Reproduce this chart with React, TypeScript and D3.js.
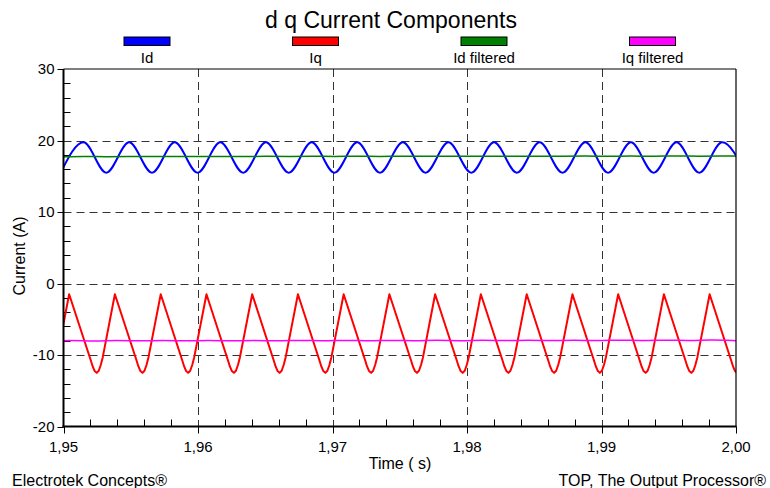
import React from 'react';
import * as d3 from 'd3';

const title = 'd q Current Components';
const seriesNames = ['Id', 'Iq', 'Id filtered', 'Iq filtered'];
const seriesColors = ['#0000ff', '#ff0000', '#008000', '#ff00ff'];
const xTicks = [1.95, 1.96, 1.97, 1.98, 1.99, 2.0];
const xTickLabels = ['1,95', '1,96', '1,97', '1,98', '1,99', '2,00'];
const xMinorTicks = [1.952, 1.954, 1.956, 1.958, 1.962, 1.964, 1.966, 1.968, 1.972, 1.974, 1.976, 1.978, 1.982, 1.984, 1.986, 1.988, 1.992, 1.994, 1.996, 1.998];
const yTicks = [-20, -10, 0, 10, 20, 30];
const yMinorTicks = [-18, -16, -14, -12, -8, -6, -4, -2, 2, 4, 6, 8, 12, 14, 16, 18, 22, 24, 26, 28];

// Id: alternating troughs / peaks
const idTime = [1.94979, 1.95149, 1.95318, 1.95488, 1.95658, 1.95827, 1.95997, 1.96166, 1.96336, 1.96505, 1.96675, 1.96845, 1.97014, 1.97184, 1.97353, 1.97523, 1.97692, 1.97862, 1.98032, 1.98201, 1.98371, 1.9854, 1.9871, 1.9888, 1.99049, 1.99219, 1.99388, 1.99558, 1.99727, 1.99897, 2.00067];
const idValue = [15.5, 19.75, 15.5, 19.75, 15.5, 19.75, 15.5, 19.75, 15.5, 19.75, 15.5, 19.75, 15.5, 19.75, 15.5, 19.75, 15.5, 19.75, 15.5, 19.75, 15.5, 19.75, 15.5, 19.75, 15.5, 19.75, 15.5, 19.75, 15.5, 19.75, 15.5];
const idFilteredValue = [17.7, 17.78, 17.71, 17.79, 17.72, 17.8, 17.73, 17.8, 17.74, 17.81, 17.74, 17.81, 17.75, 17.82, 17.75, 17.82, 17.76, 17.83, 17.76, 17.83, 17.77, 17.83, 17.77, 17.84, 17.78, 17.84, 17.78, 17.85, 17.79, 17.85, 17.8];

// Iq: sawtooth samples [time, value] (rounded troughs, sharp peaks)
const iqSamples: [number, number][] = [
  [1.94862, -10.7], [1.94877, -11.6], [1.94892, -12.25], [1.94907, -12.5], [1.94922, -12.2], [1.94937, -11.4], [1.94952, -10.3], [1.95042, -1.5],
  [1.95202, -10.7], [1.95217, -11.6], [1.95232, -12.25], [1.95247, -12.5], [1.95262, -12.2], [1.95277, -11.4], [1.95292, -10.3], [1.95382, -1.5],
  [1.95542, -10.7], [1.95557, -11.6], [1.95572, -12.25], [1.95587, -12.5], [1.95602, -12.2], [1.95617, -11.4], [1.95632, -10.3], [1.95723, -1.5],
  [1.95882, -10.7], [1.95897, -11.6], [1.95912, -12.25], [1.95927, -12.5], [1.95942, -12.2], [1.95957, -11.4], [1.95972, -10.3], [1.96063, -1.5],
  [1.96222, -10.7], [1.96237, -11.6], [1.96252, -12.25], [1.96267, -12.5], [1.96282, -12.2], [1.96297, -11.4], [1.96312, -10.3], [1.96403, -1.5],
  [1.96562, -10.7], [1.96577, -11.6], [1.96592, -12.25], [1.96607, -12.5], [1.96622, -12.2], [1.96637, -11.4], [1.96652, -10.3], [1.96743, -1.5],
  [1.96902, -10.7], [1.96917, -11.6], [1.96932, -12.25], [1.96947, -12.5], [1.96962, -12.2], [1.96977, -11.4], [1.96992, -10.3], [1.97083, -1.5],
  [1.97242, -10.7], [1.97257, -11.6], [1.97272, -12.25], [1.97287, -12.5], [1.97302, -12.2], [1.97317, -11.4], [1.97332, -10.3], [1.97423, -1.5],
  [1.97583, -10.7], [1.97598, -11.6], [1.97613, -12.25], [1.97628, -12.5], [1.97643, -12.2], [1.97658, -11.4], [1.97673, -10.3], [1.97763, -1.5],
  [1.97923, -10.7], [1.97938, -11.6], [1.97953, -12.25], [1.97968, -12.5], [1.97983, -12.2], [1.97998, -11.4], [1.98013, -10.3], [1.98103, -1.5],
  [1.98263, -10.7], [1.98278, -11.6], [1.98293, -12.25], [1.98308, -12.5], [1.98323, -12.2], [1.98338, -11.4], [1.98353, -10.3], [1.98444, -1.5],
  [1.98603, -10.7], [1.98618, -11.6], [1.98633, -12.25], [1.98648, -12.5], [1.98663, -12.2], [1.98678, -11.4], [1.98693, -10.3], [1.98784, -1.5],
  [1.98943, -10.7], [1.98958, -11.6], [1.98973, -12.25], [1.98988, -12.5], [1.99003, -12.2], [1.99018, -11.4], [1.99033, -10.3], [1.99124, -1.5],
  [1.99283, -10.7], [1.99298, -11.6], [1.99313, -12.25], [1.99328, -12.5], [1.99343, -12.2], [1.99358, -11.4], [1.99373, -10.3], [1.99464, -1.5],
  [1.99623, -10.7], [1.99638, -11.6], [1.99653, -12.25], [1.99668, -12.5], [1.99683, -12.2], [1.99698, -11.4], [1.99713, -10.3], [1.99804, -1.5],
  [1.99963, -10.7], [1.99978, -11.6], [1.99993, -12.25], [2.00008, -12.5], [2.00023, -12.2], [2.00038, -11.4], [2.00053, -10.3],
];

const iqFilteredTime = [1.94907, 1.95042, 1.95247, 1.95382, 1.95587, 1.95723, 1.95927, 1.96063, 1.96267, 1.96403, 1.96607, 1.96743, 1.96947, 1.97083, 1.97287, 1.97423, 1.97628, 1.97763, 1.97968, 1.98103, 1.98308, 1.98444, 1.98648, 1.98784, 1.98988, 1.99124, 1.99328, 1.99464, 1.99668, 1.99804, 2.00008];
const iqFilteredValue = [-8.06, -7.94, -8.08, -7.93, -8.07, -7.93, -8.07, -7.92, -8.06, -7.92, -8.06, -7.92, -8.05, -7.91, -8.05, -7.91, -8.04, -7.9, -8.04, -7.9, -8.03, -7.89, -8.03, -7.89, -8.02, -7.88, -8.02, -7.88, -8.01, -7.87, -8.0];

const W = 770;
const H = 488;
const L = 63.5, R = 736, T = 69, B = 426.5;
const FONT = '"Liberation Sans", Arial, sans-serif';

export default function App() {
  const x = d3.scaleLinear().domain([1.95, 2.0]).range([L, R]);
  const y = d3.scaleLinear().domain([-20, 30]).range([B, T]);

  const mk = () => d3.line<[number, number]>().x((d) => x(d[0])).y((d) => y(d[1]));
  const idLine = mk().curve(d3.curveMonotoneX)(idTime.map((t, i) => [t, idValue[i]] as [number, number]));
  const idfLine = mk().curve(d3.curveBasis)(idTime.map((t, i) => [t, idFilteredValue[i]] as [number, number]));
  const iqLine = mk().curve(d3.curveLinear)(iqSamples);
  const iqfLine = mk().curve(d3.curveBasis)(iqFilteredTime.map((t, i) => [t, iqFilteredValue[i]] as [number, number]));

  const paths = [
    { d: idLine, color: seriesColors[0], w: 2 },
    { d: iqLine, color: seriesColors[1], w: 2 },
    { d: idfLine, color: seriesColors[2], w: 1.5 },
    { d: iqfLine, color: seriesColors[3], w: 1.5 },
  ];

  const legendX = [147, 315.5, 484, 652.5];

  return (
    <svg width={W} height={H} style={{ position: 'absolute', left: 0, top: 0, background: '#fff' }} fontFamily={FONT}>
      <rect x={0} y={0} width={W} height={H} fill="#fff" />
      <defs>
        <clipPath id="plot">
          <rect x={L} y={T} width={R - L} height={B - T} />
        </clipPath>
      </defs>
      <text x={391} y={28} textAnchor="middle" fontSize={23} fill="#000">{title}</text>
      {seriesNames.map((n, i) => (
        <g key={n}>
          <rect x={legendX[i] - 23} y={37} width={46} height={8.5} fill={seriesColors[i]} stroke="#000" strokeWidth={1} />
          <text x={legendX[i]} y={63} textAnchor="middle" fontSize={15}>{n}</text>
        </g>
      ))}
      {/* grid */}
      {yTicks.filter((v) => v > -20 && v < 30).map((v) => (
        <line key={'gy' + v} x1={L} x2={R} y1={Math.round(y(v)) + 0.5} y2={Math.round(y(v)) + 0.5} stroke="#333" strokeDasharray="8,5" strokeWidth={1} />
      ))}
      {xTicks.filter((v) => v > 1.95 && v < 2.0).map((v) => (
        <line key={'gx' + v} x1={Math.round(x(v)) + 0.5} x2={Math.round(x(v)) + 0.5} y1={T} y2={B} stroke="#333" strokeDasharray="8,5" strokeWidth={1} />
      ))}
      {/* minor ticks */}
      {yMinorTicks.map((v) => (
        <line key={'my' + v} x1={L} x2={L + 7} y1={Math.round(y(v)) + 0.5} y2={Math.round(y(v)) + 0.5} stroke="#000" strokeWidth={1} />
      ))}
      {xMinorTicks.map((v) => (
        <line key={'mx' + v} x1={Math.round(x(v)) + 0.5} x2={Math.round(x(v)) + 0.5} y1={B} y2={B - 7} stroke="#000" strokeWidth={1} />
      ))}
      {/* series */}
      <g clipPath="url(#plot)">
        {paths.map((p, i) => (
          <path key={i} d={p.d || ''} fill="none" stroke={p.color} strokeWidth={p.w} strokeLinejoin="round" />
        ))}
      </g>
      {/* frame */}
      <line x1={L} x2={R} y1={T} y2={T} stroke="#000" strokeWidth={1.2} />
      <line x1={R} x2={R} y1={T} y2={B} stroke="#000" strokeWidth={1.2} />
      <line x1={L} x2={L} y1={T} y2={B + 1} stroke="#000" strokeWidth={2} />
      <line x1={L - 1} x2={R + 0.5} y1={B} y2={B} stroke="#000" strokeWidth={2} />
      {/* major ticks */}
      {yTicks.map((v) => (
        <g key={'ty' + v}>
          <line x1={L - 6} x2={L} y1={Math.round(y(v)) + 0.5} y2={Math.round(y(v)) + 0.5} stroke="#000" strokeWidth={1} />
          <text x={L - 9} y={y(v) + 5} textAnchor="end" fontSize={15}>{v}</text>
        </g>
      ))}
      {xTicks.map((v, i) => (
        <g key={'tx' + v}>
          <line x1={Math.round(x(v)) + 0.5} x2={Math.round(x(v)) + 0.5} y1={B} y2={B + 7} stroke="#000" strokeWidth={1} />
          <text x={x(v)} y={452} textAnchor="middle" fontSize={15}>{xTickLabels[i]}</text>
        </g>
      ))}
      <text x={400} y={469} textAnchor="middle" fontSize={16}>Time ( s)</text>
      <text transform={`translate(25,256) rotate(-90)`} textAnchor="middle" fontSize={16}>Current (A)</text>
      <text x={12} y={486} fontSize={16}>Electrotek Concepts®</text>
      <text x={766} y={486} textAnchor="end" fontSize={16}>TOP, The Output Processor®</text>
    </svg>
  );
}
